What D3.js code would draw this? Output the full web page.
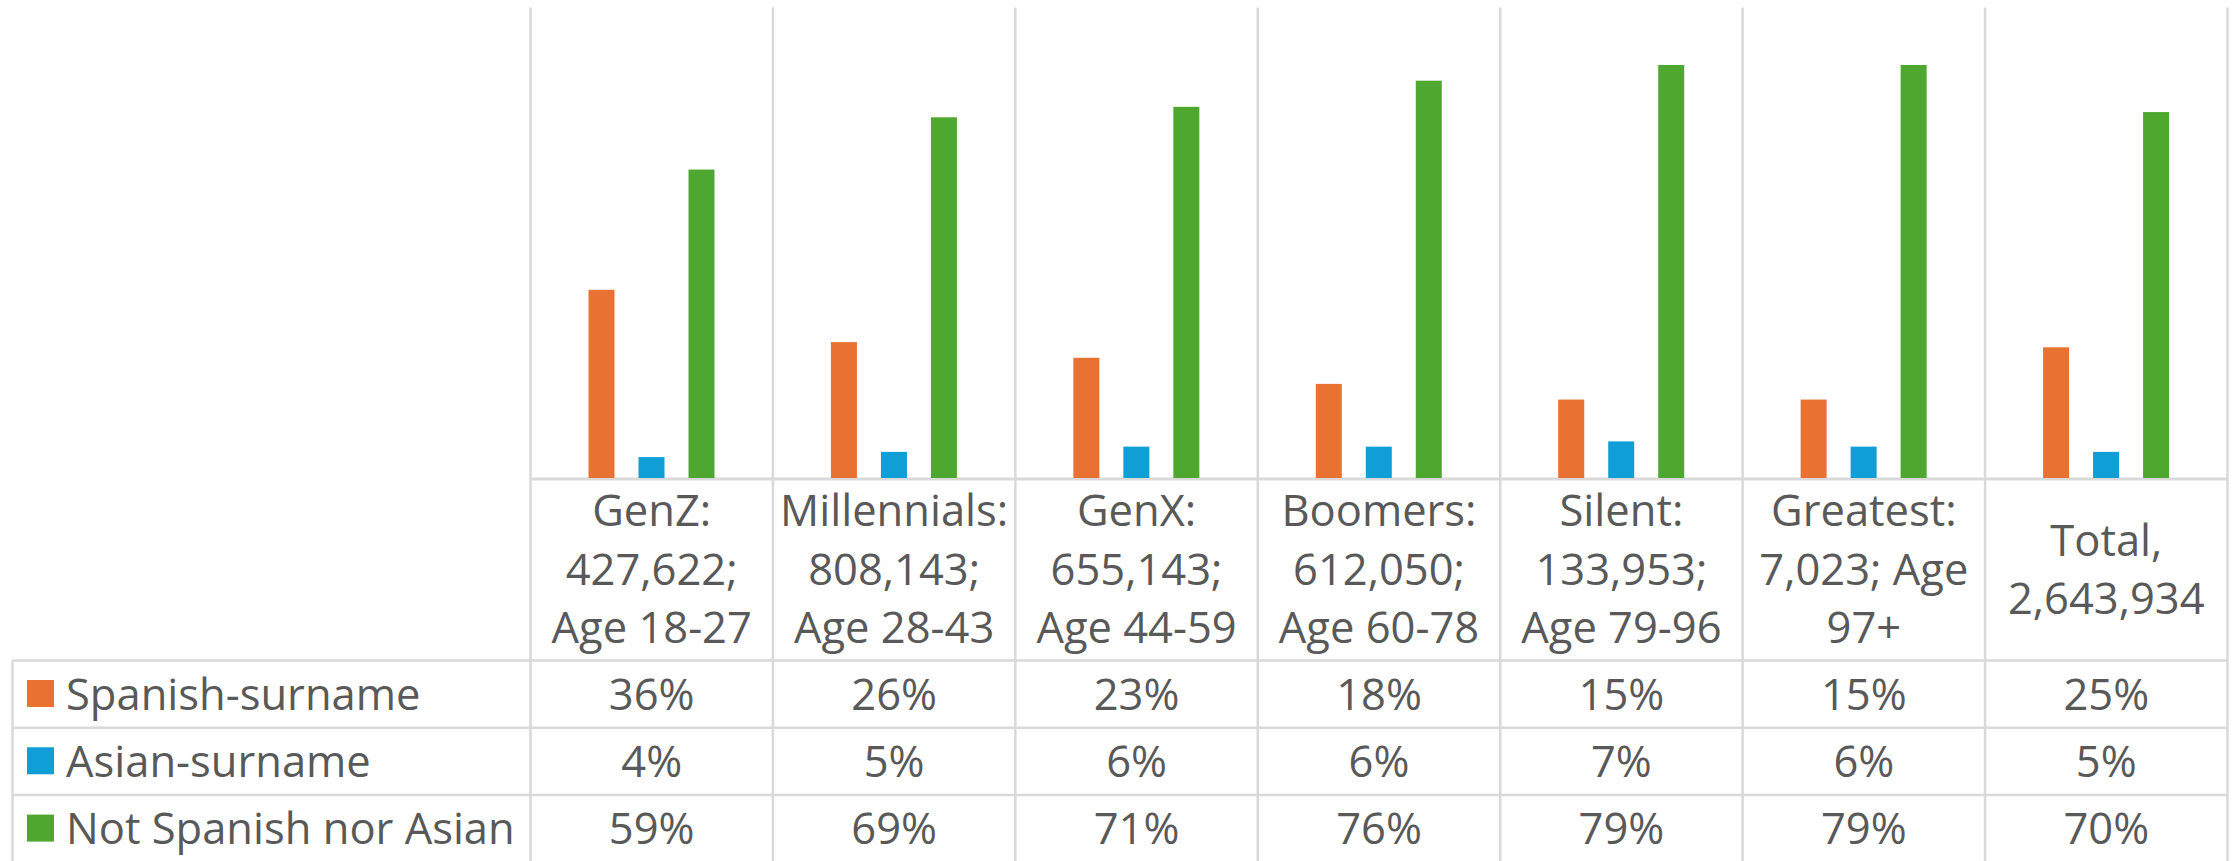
<!DOCTYPE html>
<html>
<head>
<meta charset="utf-8">
<script src="https://cdn.jsdelivr.net/npm/d3@7"></script>
<style>
  body { margin: 0; background: #fff; }
  text { font-family: "Open Sans", "Noto Sans", sans-serif; fill: #595959; }
</style>
</head>
<body>
<svg width="2239" height="861"></svg>
<script>
// categories and their wrapped axis labels
const categories = ['GenZ', 'Millennials', 'GenX', 'Boomers', 'Silent', 'Greatest', 'Total'];
const categoryLabels = [
  ['GenZ:', '427,622;', 'Age 18-27'],
  ['Millennials:', '808,143;', 'Age 28-43'],
  ['GenX:', '655,143;', 'Age 44-59'],
  ['Boomers:', '612,050;', 'Age 60-78'],
  ['Silent:', '133,953;', 'Age 79-96'],
  ['Greatest:', '7,023; Age', '97+'],
  ['Total,', '2,643,934']
];

// series
const seriesNames = ['Spanish-surname', 'Asian-surname', 'Not Spanish nor Asian'];
const spanish = [0.36, 0.26, 0.23, 0.18, 0.15, 0.15, 0.25];
const asian = [0.04, 0.05, 0.06, 0.06, 0.07, 0.06, 0.05];
const notSpanishNorAsian = [0.59, 0.69, 0.71, 0.76, 0.79, 0.79, 0.70];
const seriesValues = [spanish, asian, notSpanishNorAsian];
const colors = ['#E97132', '#0F9ED5', '#4EA72E'];

const svg = d3.select('svg');
const gridColor = '#d9d9d9';
const fontSize = 43.5;

// layout
const plotTop = 7.5;
const baseline = 478;
const tableTop = 660.5;
const rowHeight = 67.3;
const tableLeft = 12.5;
const tableRight = 2227.5;
const bottom = 861;

const x = d3.scaleBand().domain(categories).range([530.5, tableRight]);
const xSub = d3.scaleBand().domain(seriesNames).range([58, 184]).paddingInner(0.48);
const y = d3.scaleLinear().domain([0, 0.9]).range([baseline, plotTop]);

const grid = svg.append('g').attr('stroke', gridColor).attr('stroke-width', 2.5);

// vertical gridlines at category boundaries
const edges = categories.map(c => x(c)).concat([x(categories[categories.length - 1]) + x.step()]);
grid.selectAll('line.v')
  .data(edges)
  .enter()
  .append('line')
  .attr('x1', d => d).attr('x2', d => d)
  .attr('y1', plotTop).attr('y2', bottom);

// category axis line
grid.append('line')
  .attr('x1', x.range()[0]).attr('x2', tableRight)
  .attr('y1', baseline + 1).attr('y2', baseline + 1)
  .attr('stroke-width', 3);

// table horizontal lines
const rowTops = seriesNames.map((s, i) => tableTop + i * rowHeight);
grid.selectAll('line.h')
  .data(rowTops)
  .enter()
  .append('line')
  .attr('x1', tableLeft).attr('x2', tableRight)
  .attr('y1', d => d).attr('y2', d => d);

grid.append('line')
  .attr('x1', tableLeft).attr('x2', tableLeft)
  .attr('y1', tableTop).attr('y2', bottom);

// bars
seriesNames.forEach((s, si) => {
  svg.append('g')
    .selectAll('rect')
    .data(seriesValues[si])
    .enter()
    .append('rect')
    .attr('x', (d, i) => x(categories[i]) + xSub(s))
    .attr('y', d => y(d))
    .attr('width', xSub.bandwidth())
    .attr('height', d => baseline - y(d))
    .attr('fill', colors[si]);
});

// category labels
const lineGap = 58.5;
const headerMid = (baseline + tableTop) / 2;
const capHalf = fontSize * 0.714 / 2;
categoryLabels.forEach((lines, i) => {
  const cx = x(categories[i]) + x.bandwidth() / 2;
  const firstBase = headerMid + capHalf - (lines.length - 1) * lineGap / 2;
  svg.append('g')
    .selectAll('text')
    .data(lines)
    .enter()
    .append('text')
    .attr('x', cx)
    .attr('y', (d, j) => firstBase + j * lineGap)
    .attr('text-anchor', 'middle')
    .attr('font-size', fontSize)
    .text(d => d);
});

// data table rows
const pct = d3.format('.0%');
seriesNames.forEach((s, si) => {
  const rowBase = rowTops[si] + rowHeight / 2 + capHalf;
  const row = svg.append('g');
  row.append('rect')
    .attr('x', 27).attr('y', rowTops[si] + 19.5)
    .attr('width', 27).attr('height', 27)
    .attr('fill', colors[si]);
  row.append('text')
    .attr('x', 66)
    .attr('y', rowBase)
    .attr('font-size', fontSize)
    .text(s);
  row.selectAll('text.v')
    .data(seriesValues[si])
    .enter()
    .append('text')
    .attr('x', (d, i) => x(categories[i]) + x.bandwidth() / 2)
    .attr('y', rowBase)
    .attr('text-anchor', 'middle')
    .attr('font-size', fontSize)
    .text(d => pct(d));
});
</script>
</body>
</html>
